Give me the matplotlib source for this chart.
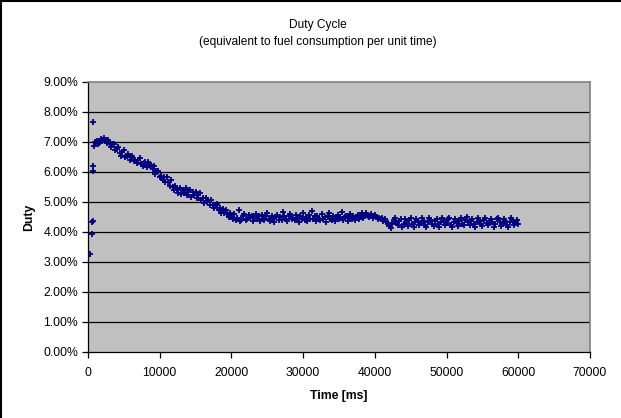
import numpy as np
import matplotlib
matplotlib.use("Agg")
import matplotlib.pyplot as plt
from matplotlib.ticker import FuncFormatter
from matplotlib.lines import Line2D

plt.rcParams["font.family"] = ["Liberation Sans", "DejaVu Sans"]

# start-up samples (ms, duty %)
early_time = [280, 510, 600, 640, 700, 720, 740]
early_duty = [3.26, 3.93, 4.35, 4.38, 6.02, 6.19, 7.67]

# regular samples every 200 ms from 800 ms to 60000 ms
sample_time = list(range(800, 60001, 200))
sample_duty = [
    6.88, 6.99, 7.04, 6.92, 6.97, 7.10, 7.02, 7.14, 7.06, 6.98,
    7.08, 6.94, 6.84, 6.92, 6.94, 6.75, 6.78, 6.84, 6.65, 6.54,
    6.68, 6.72, 6.51, 6.54, 6.60, 6.39, 6.51, 6.54, 6.37, 6.41,
    6.29, 6.41, 6.46, 6.28, 6.19, 6.30, 6.34, 6.18, 6.32, 6.19,
    6.25, 6.09, 6.19, 5.93, 6.03, 6.05, 5.83, 5.88, 5.72, 5.84,
    5.68, 5.82, 5.68, 5.53, 5.75, 5.51, 5.39, 5.54, 5.44, 5.31,
    5.46, 5.26, 5.39, 5.30, 5.48, 5.24, 5.33, 5.41, 5.17, 5.33,
    5.24, 5.34, 5.12, 5.25, 5.29, 5.08, 5.12, 4.98, 5.15, 5.01,
    5.08, 4.91, 5.06, 4.90, 4.79, 4.91, 4.93, 4.75, 4.80, 4.65,
    4.77, 4.62, 4.75, 4.61, 4.50, 4.63, 4.55, 4.43, 4.59, 4.41,
    4.47, 4.74, 4.36, 4.41, 4.55, 4.60, 4.39, 4.45, 4.58, 4.48,
    4.54, 4.38, 4.48, 4.60, 4.42, 4.52, 4.36, 4.57, 4.44, 4.40,
    4.52, 4.64, 4.43, 4.38, 4.55, 4.46, 4.34, 4.50, 4.58, 4.41,
    4.49, 4.39, 4.68, 4.54, 4.43, 4.37, 4.52, 4.59, 4.42, 4.48,
    4.40, 4.56, 4.47, 4.35, 4.53, 4.45, 4.62, 4.41, 4.50, 4.38,
    4.57, 4.45, 4.70, 4.42, 4.52, 4.36, 4.54, 4.44, 4.39, 4.59,
    4.43, 4.51, 4.34, 4.55, 4.64, 4.45, 4.41, 4.53, 4.37, 4.49,
    4.58, 4.42, 4.51, 4.68, 4.40, 4.49, 4.55, 4.38, 4.46, 4.60,
    4.44, 4.54, 4.40, 4.50, 4.57, 4.43, 4.52, 4.62, 4.46, 4.56,
    4.64, 4.55, 4.49, 4.60, 4.52, 4.47, 4.57, 4.49, 4.44, 4.48,
    4.43, 4.46, 4.38, 4.42, 4.35, 4.30, 4.20, 4.14, 4.28, 4.40,
    4.46, 4.30, 4.22, 4.36, 4.45, 4.18, 4.28, 4.42, 4.34, 4.20,
    4.40, 4.47, 4.26, 4.16, 4.32, 4.44, 4.38, 4.22, 4.30, 4.46,
    4.36, 4.24, 4.18, 4.34, 4.48, 4.40, 4.28, 4.20, 4.38, 4.44,
    4.26, 4.16, 4.32, 4.46, 4.36, 4.22, 4.30, 4.42, 4.48, 4.24,
    4.18, 4.34, 4.44, 4.30, 4.20, 4.38, 4.46, 4.28, 4.22, 4.40,
    4.50, 4.32, 4.24, 4.36, 4.44, 4.26, 4.18, 4.34, 4.46, 4.38,
    4.28, 4.20, 4.40, 4.47, 4.30, 4.22, 4.36, 4.45, 4.32, 4.18,
    4.26, 4.42, 4.48, 4.34, 4.20, 4.30, 4.44, 4.38, 4.24, 4.16,
    4.32, 4.46, 4.36, 4.22, 4.30, 4.40, 4.28,
]

x_ticks = [0, 10000, 20000, 30000, 40000, 50000, 60000, 70000]
y_ticks = [0, 1, 2, 3, 4, 5, 6, 7, 8, 9]

time = np.array(early_time + sample_time)
duty = np.array(early_duty + sample_duty)

fig = plt.figure(figsize=(6.21, 4.18), dpi=100)
ax = fig.add_axes([88 / 621, 66 / 418, 502 / 621, 270 / 418])
ax.set_facecolor("#c0c0c0")

for yv in y_ticks[1:-1]:
    ax.axhline(yv, color="black", linewidth=0.9, zorder=1)

ax.plot(time, duty, linestyle="none", marker="+", markersize=4.8,
        markeredgewidth=1.3, color="#000080", zorder=3)

ax.set_xlim(0, 70000)
ax.set_ylim(0, 9)
ax.set_xticks(x_ticks)
ax.set_yticks(y_ticks)
ax.yaxis.set_major_formatter(FuncFormatter(lambda v, p: f"{v:.2f}%"))
ax.tick_params(direction="out", length=4, width=0.9, labelsize=8.8, color="black", pad=3)
ax.tick_params(axis="x", pad=7)

for side in ("top", "right"):
    ax.spines[side].set_color("#808080")
    ax.spines[side].set_linewidth(1.2)
for side in ("left", "bottom"):
    ax.spines[side].set_color("black")
    ax.spines[side].set_linewidth(0.9)

ax.set_xlabel("Time [ms]", fontsize=8.8, fontweight="bold", labelpad=8)
ax.set_ylabel("Duty", fontsize=8.8, fontweight="bold", labelpad=6)

fig.text(0.512, 1 - 25 / 418, "Duty Cycle", ha="center", va="center", fontsize=8.6)
fig.text(0.512, 1 - 42 / 418, "(equivalent to fuel consumption per unit time)",
         ha="center", va="center", fontsize=8.6)

# outer chart frame (left and top edges visible)
fig.add_artist(Line2D([0.8 / 621, 0.8 / 621], [0, 1], color="black", linewidth=1.5,
                      transform=fig.transFigure))
fig.add_artist(Line2D([0, 1], [1 - 0.8 / 418, 1 - 0.8 / 418], color="black", linewidth=1.5,
                      transform=fig.transFigure))

fig.savefig("out.png", dpi=100)
